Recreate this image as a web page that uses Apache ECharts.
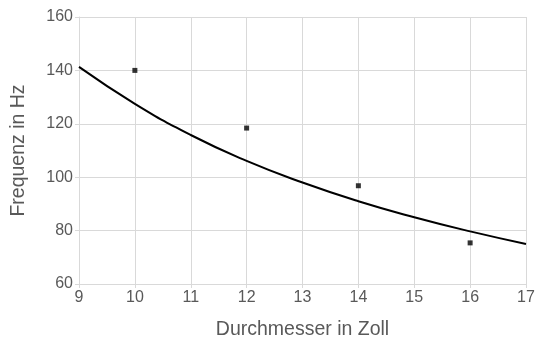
<!DOCTYPE html>
<html><head><meta charset="utf-8">
<script src="https://cdn.jsdelivr.net/npm/echarts@6/dist/echarts.min.js"></script>
<style>html,body{margin:0;padding:0;background:#fff}#c{width:537px;height:340px}</style>
</head><body><div id="c"></div>
<script>
var measX = [10, 12, 14, 16];
var measY = [140, 118.4, 96.8, 75.4];
var trendX = [9, 10, 11, 12, 13, 14, 15, 16, 17];
var trendY = [141.3, 127.5, 115.8, 106.1, 98.0, 91.0, 85.0, 79.7, 75.0];
var xName = 'Durchmesser in Zoll';
var yName = 'Frequenz in Hz';

var chart = echarts.init(document.getElementById('c'), null, {renderer: 'canvas'});
var font = 'Liberation Sans, Arial, sans-serif';
var grey = '#595959';
var gridCol = '#d9d9d9';
chart.setOption({
  animation: false,
  grid: {left: 79, right: 11, top: 17, bottom: 56, containLabel: false, outerBoundsMode: 'none'},
  xAxis: {
    type: 'value', min: 9, max: 17, interval: 1,
    name: xName, nameLocation: 'middle', nameGap: 36,
    nameTextStyle: {color: grey, fontSize: 19.5, fontFamily: font},
    axisLine: {show: true, lineStyle: {color: gridCol}},
    axisTick: {show: true, length: 4, lineStyle: {color: gridCol}},
    axisLabel: {color: grey, fontSize: 16, fontFamily: font, margin: 6},
    splitLine: {show: true, lineStyle: {color: gridCol}}
  },
  yAxis: {
    type: 'value', min: 60, max: 160, interval: 20,
    name: yName, nameLocation: 'middle', nameGap: 50,
    nameTextStyle: {color: grey, fontSize: 19.5, fontFamily: font},
    axisLine: {show: true, lineStyle: {color: gridCol}},
    axisTick: {show: true, length: 4, lineStyle: {color: gridCol}},
    axisLabel: {color: grey, fontSize: 16, fontFamily: font, margin: 6},
    splitLine: {show: true, lineStyle: {color: gridCol}}
  },
  series: [
    {
      type: 'line', smooth: true, showSymbol: false, symbol: 'none',
      data: trendX.map(function(x, i){ return [x, trendY[i]]; }),
      lineStyle: {color: '#000', width: 2}, z: 3
    },
    {
      type: 'scatter', symbol: 'rect', symbolSize: 5,
      data: measX.map(function(x, i){ return [x, measY[i]]; }),
      itemStyle: {color: '#000'}, z: 4
    }
  ]
});
</script></body></html>
